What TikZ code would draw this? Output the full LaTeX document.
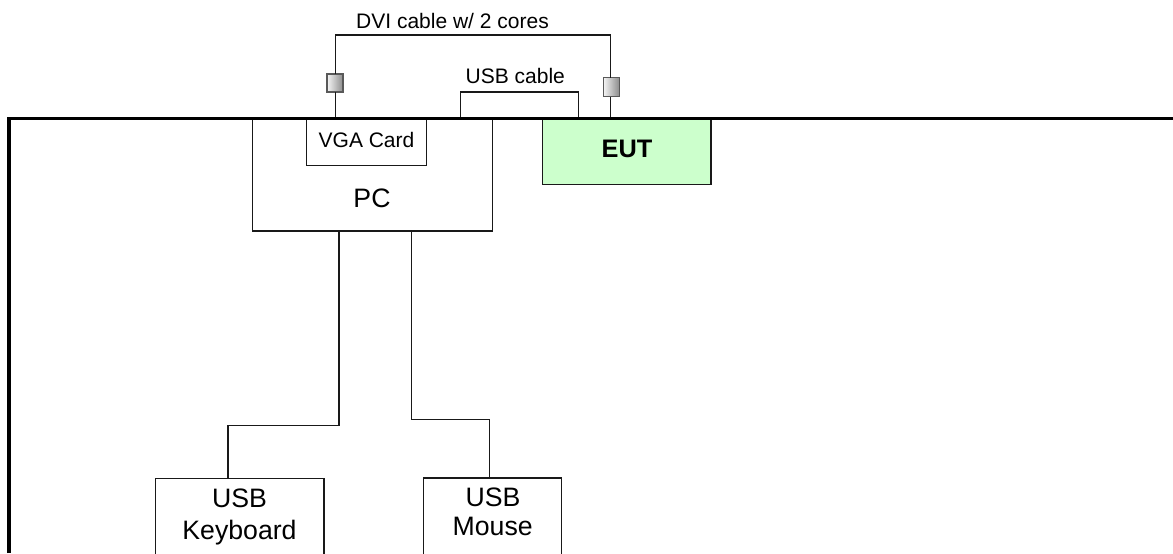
\documentclass[tikz,border=0pt]{standalone}
\usepackage{fontspec}
\setmainfont{Liberation Sans}
\definecolor{eutgreen}{RGB}{204,255,204}
\tikzset{
  px/.style={x=0.75pt,y=-0.75pt},
  boxnode/.style={draw=black!90,line width=1.1pt,fill=white,inner sep=0pt,outer sep=0pt,align=center,anchor=north west},
  wire/.style={draw=black!90,line width=1pt},
  thinwire/.style={draw=black!90,line width=0.8pt},
  border/.style={draw=black,line width=2.7pt,line join=miter},
  plug/.style={draw=black!65,line width=1.15pt,left color=black!4,middle color=white,right color=black!45,inner sep=0pt,outer sep=0pt},
  lbl/.style={inner sep=0pt,anchor=base,font=\fontsize{15.75}{18}\selectfont},
  biglbl/.style={inner sep=0pt,anchor=base,font=\fontsize{20}{24}\selectfont}
}
\begin{document}
\begin{tikzpicture}[px]
\useasboundingbox (0,0) rectangle (1173,553);
\coordinate (bl) at (9.2,553);
\coordinate (tl) at (9.2,118.3);
\coordinate (tr) at (1173,118.3);
\coordinate (dviL) at (335.3,118);
\coordinate (dviR) at (610.3,118);
\coordinate (usbL) at (460.5,118);
\coordinate (usbR) at (578.5,118);
\coordinate (dviTL) at (335.3,35);
\coordinate (dviTR) at (610.3,35);
\coordinate (usbTL) at (460.5,92);
\coordinate (usbTR) at (578.5,92);
\coordinate (kbA) at (339,425.5);
\coordinate (kbB) at (228,425.5);
\coordinate (mcA) at (411.3,419.3);
\coordinate (mcB) at (489.5,419.3);
\node[plug,minimum width=12pt,minimum height=13.5pt] (plugL) at (335,83.2) {};
\node[plug,minimum width=12pt,minimum height=14.25pt] (plugR) at (611.3,87.2) {};
\draw[wire] (dviL) -- (dviL |- plugL.south);
\draw[wire] (dviL |- plugL.north) -- (dviTL) -- (dviTR) -- (dviTR |- plugR.north);
\draw[wire] (dviR |- plugR.south) -- (dviR);
\draw[wire] (usbL) -- (usbTL) -- (usbTR) -- (usbR);
\node[boxnode,minimum width=180pt,minimum height=84.75pt] (pc) at (252.3,118) {};
\node[boxnode,minimum width=90pt,minimum height=35.5pt] (vga) at (306.7,118) {};
\node[boxnode,fill=eutgreen,minimum width=126.3pt,minimum height=49pt] (eut) at (542.4,119) {};
\node[boxnode,minimum width=126.2pt,minimum height=80pt] (kbd) at (155.7,478.7) {};
\node[boxnode,minimum width=103.65pt,minimum height=80pt] (mouse) at (423.5,478.2) {};
\draw[border] (bl) -- (tl) -- (tr);
\draw[thinwire] (kbA |- pc.south) -- (kbA) -- (kbB) -- (kbB |- kbd.north);
\draw[thinwire] (mcA |- pc.south) -- (mcA) -- (mcB) -- (mcB |- mouse.north);
\node[lbl] (t1) at (452.5,28) {DVI cable w/ 2 cores};
\node[lbl] (t2) at (515.3,83) {USB cable};
\node[lbl] (t3) at (366.5,147.7) {VGA Card};
\node[biglbl] (t4) at (372,207.7) {PC};
\node[biglbl,font=\fontsize{19}{24}\bfseries] (t5) at (627,157.7) {EUT};
\node[biglbl] (t6) at (239.5,507) {USB};
\node[biglbl] (t7) at (239.5,539) {Keyboard};
\node[biglbl] (t8) at (493,506.7) {USB};
\node[biglbl] (t9) at (492.7,535) {Mouse};
\end{tikzpicture}
\end{document}
